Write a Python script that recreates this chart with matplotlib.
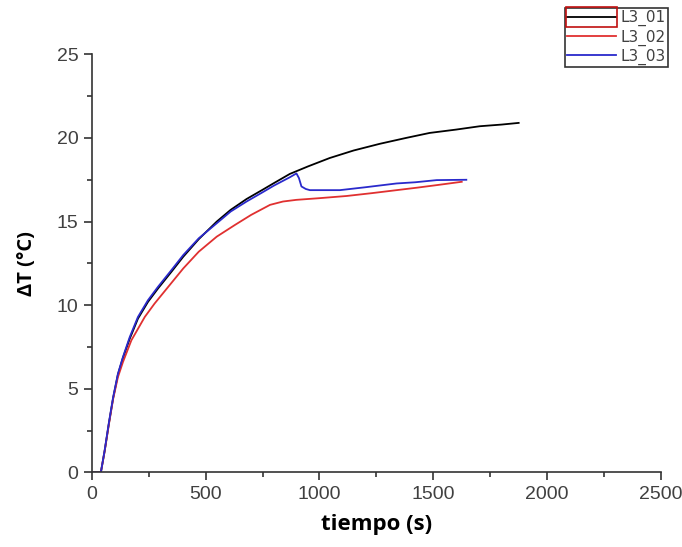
import matplotlib.pyplot as plt
from matplotlib.ticker import MultipleLocator
from matplotlib.patches import Rectangle

# L3_01 (black)
t_01 = [0, 20, 40, 57, 75, 94, 115, 137, 167, 203, 247, 291, 350, 402, 470, 549, 610,
        680, 750, 800, 870, 950, 1045, 1150, 1265, 1380, 1484, 1600, 1704, 1800, 1875]
dT_01 = [0, 0, 0, 1.3, 2.9, 4.45, 5.85, 6.85, 8.0, 9.2, 10.2, 11.0, 12.0, 12.9, 13.95,
         15.0, 15.7, 16.35, 16.9, 17.3, 17.85, 18.3, 18.8, 19.25, 19.65, 20.0, 20.3,
         20.5, 20.7, 20.8, 20.9]

# L3_02 (red)
t_02 = [0, 20, 40, 57, 75, 94, 115, 137, 174, 233, 276, 330, 402, 470, 549, 629, 700,
        783, 840, 899, 1000, 1119, 1230, 1339, 1430, 1515, 1625]
dT_02 = [0, 0, 0, 1.3, 2.85, 4.4, 5.7, 6.6, 7.9, 9.3, 10.1, 11.0, 12.2, 13.2, 14.1, 14.8,
         15.4, 16.0, 16.2, 16.3, 16.4, 16.53, 16.7, 16.88, 17.03, 17.18, 17.38]

# L3_03 (blue)
t_03 = [0, 20, 40, 57, 75, 94, 115, 137, 167, 203, 247, 291, 350, 402, 470, 549, 610,
        680, 750, 800, 870, 899, 910, 921, 940, 958, 1090, 1200, 1339, 1420, 1515, 1645]
dT_03 = [0, 0, 0, 1.35, 2.95, 4.5, 5.9, 6.9, 8.1, 9.3, 10.3, 11.1, 12.1, 13.0, 14.0,
         14.9, 15.6, 16.2, 16.75, 17.15, 17.65, 17.88, 17.6, 17.1, 16.95, 16.88, 16.88,
         17.05, 17.28, 17.35, 17.48, 17.5]

fig = plt.figure(figsize=(6.82, 5.47), dpi=100)
ax = fig.add_axes([0.1345, 0.1362, 0.8347, 0.7645])

ax.plot(t_01, dT_01, color='black', lw=1.3, label='L3_01')
ax.plot(t_02, dT_02, color='#e03030', lw=1.3, label='L3_02')
ax.plot(t_03, dT_03, color='#2a2acc', lw=1.3, label='L3_03')

ax.set_xlim(0, 2500)
ax.set_ylim(0, 25)
ax.xaxis.set_major_locator(MultipleLocator(500))
ax.xaxis.set_minor_locator(MultipleLocator(250))
ax.yaxis.set_major_locator(MultipleLocator(5))
ax.yaxis.set_minor_locator(MultipleLocator(2.5))

for s in ['top', 'right']:
    ax.spines[s].set_visible(False)
for s in ['left', 'bottom']:
    ax.spines[s].set_color('#333333')
    ax.spines[s].set_linewidth(1.2)

ax.tick_params(which='major', length=6, width=1.2, color='#333333',
               labelsize=14, labelcolor='#404040')
ax.tick_params(which='minor', length=3.5, width=1.2, color='#333333')
for lab in ax.get_xticklabels() + ax.get_yticklabels():
    lab.set_fontfamily('Liberation Sans')

ax.set_xlabel('tiempo (s)', fontsize=16, fontweight='bold', family='Open Sans', labelpad=8)
ax.set_ylabel('ΔT (°C)', fontsize=14.5, fontweight='bold', family='Open Sans', labelpad=14)

leg = ax.legend(loc='upper right', bbox_to_anchor=(1.012, 1.111), fancybox=False,
                framealpha=1, edgecolor='#333333', handlelength=3.2, borderpad=0.15,
                labelspacing=0.2, handletextpad=0.3, borderaxespad=0,
                prop={'family': 'DejaVu Sans', 'size': 11})
leg.get_frame().set_linewidth(1.2)
for txt in leg.get_texts():
    txt.set_color('#404040')

# red selection box around first legend handle
fig.canvas.draw()
hb = leg.legend_handles[0].get_window_extent()
fig.patches.append(Rectangle((hb.x0 - 1, hb.y0 - 10), hb.width + 2, 20,
                             transform=None, fill=False, edgecolor='#c01010', lw=1.2))

fig.savefig('out.png', dpi=100)
